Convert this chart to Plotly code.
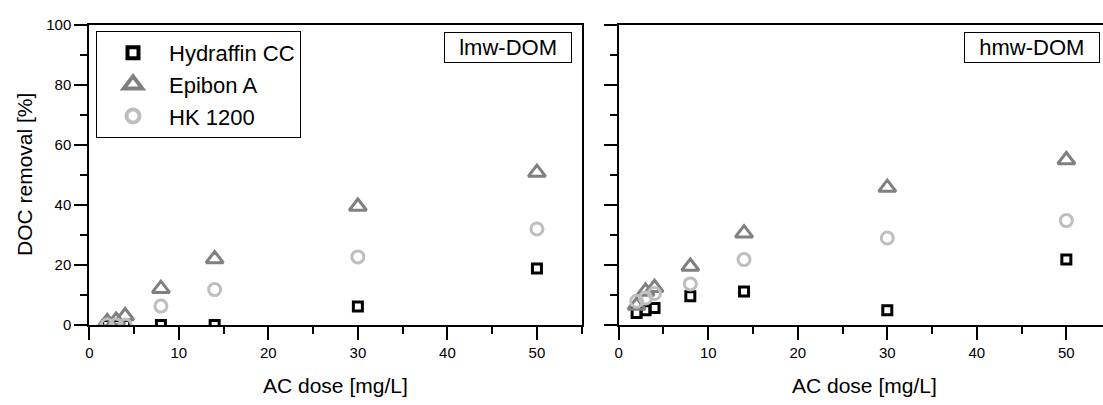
import plotly.graph_objects as go

dose = [2, 3, 4, 8, 14, 30, 50]

# lmw-DOM (left panel)
lmw_hydraffin = [0, 0, 0, 0, 0, 6.2, 18.8]
lmw_epibon = [1.0, 1.5, 3.0, 12.1, 22.0, 39.5, 50.8]
lmw_hk = [0, 0, 0, 6.3, 11.8, 22.7, 32.0]

# hmw-DOM (right panel)
hmw_hydraffin = [4.0, 4.9, 5.7, 9.6, 11.2, 4.9, 21.8]
hmw_epibon = [6.5, 11.2, 12.4, 19.5, 30.6, 45.8, 55.0]
hmw_hk = [7.9, 9.0, 10.5, 13.7, 21.8, 29.0, 34.8]

series_names = ["Hydraffin CC", "Epibon A", "HK 1200"]
panel_labels = ["lmw-DOM", "hmw-DOM"]
x_ticks = [0, 10, 20, 30, 40, 50]
y_ticks = [0, 20, 40, 60, 80, 100]

FONT = "Liberation Sans"
styles = [
    dict(symbol="square-open", size=9, color="#000000", width=3, lsize=11, lwidth=4),
    dict(symbol="triangle-up-open", size=15, color="#808080", width=3, lsize=16, lwidth=4),
    dict(symbol="circle-open", size=12, color="#BEBEBE", width=3, lsize=13, lwidth=4),
]

fig = go.Figure()
panels = [
    ("x", "y", [lmw_hydraffin, lmw_epibon, lmw_hk]),
    ("x2", "y2", [hmw_hydraffin, hmw_epibon, hmw_hk]),
]
for xa, ya, data in panels:
    for name, vals, st in zip(series_names, data, styles):
        fig.add_trace(go.Scatter(
            x=dose, y=vals, mode="markers", name=name, xaxis=xa, yaxis=ya,
            showlegend=False, cliponaxis=True, legendgroup=name,
            marker=dict(symbol=st["symbol"], size=st["size"], color=st["color"],
                        line=dict(color=st["color"], width=st["width"])),
        ))
# legend entries (bolder symbols, as in the original legend)
for name, st in zip(series_names, styles):
    fig.add_trace(go.Scatter(
        x=[None], y=[None], mode="markers", name=name, legendgroup=name, showlegend=True,
        marker=dict(symbol=st["symbol"], size=st["lsize"], color=st["color"],
                    line=dict(color=st["color"], width=st["lwidth"])),
    ))

W, H = 1103, 405
left_dom = [89.3 / W, 581.7 / W]
right_dom = [618.7 / W, 1.0]

axis_common = dict(
    showgrid=False, zeroline=False, showline=True, linecolor="black", linewidth=2,
    mirror=True, ticks="outside", tickcolor="black", tickwidth=2,
    tickfont=dict(family=FONT, size=15, color="black"), automargin=False,
)
xbase = dict(axis_common, tickvals=x_ticks, ticklen=13,
             minor=dict(dtick=5, tick0=0, ticklen=7, ticks="outside", tickcolor="black", tickwidth=2))
ybase = dict(axis_common, tickvals=y_ticks, ticklen=13, range=[0, 100],
             minor=dict(dtick=10, tick0=0, ticklen=7, ticks="outside", tickcolor="black", tickwidth=2))

overlay_x = dict(showgrid=False, zeroline=False, showline=False, ticks="inside", ticklen=4,
                 tickwidth=2, tickcolor="black", dtick=5, tick0=0, showticklabels=False, side="top")
overlay_y = dict(showgrid=False, zeroline=False, showline=False, ticks="inside", ticklen=4,
                 tickwidth=2, tickcolor="black", dtick=10, tick0=0, showticklabels=False, side="right")

fig.update_layout(
    width=W, height=H,
    margin=dict(l=0, r=0, t=24.5, b=79.5),
    plot_bgcolor="white", paper_bgcolor="white",
    font=dict(family=FONT, color="black"),
    xaxis=dict(xbase, domain=left_dom, range=[0, 55], anchor="y"),
    yaxis=dict(ybase, domain=[0, 1], anchor="x"),
    xaxis2=dict(xbase, domain=right_dom, range=[0, (W - 618.7) / 8.953], anchor="y2"),
    yaxis2=dict(ybase, domain=[0, 1], anchor="x2", showticklabels=False),
    xaxis3=dict(overlay_x, overlaying="x", matches="x", anchor="y"),
    yaxis3=dict(overlay_y, overlaying="y", matches="y", anchor="x"),
    xaxis4=dict(overlay_x, overlaying="x2", matches="x2", anchor="y2"),
    legend=dict(x=96 / W, y=0.98,
                xanchor="left", yanchor="top",
                bordercolor="black", borderwidth=1, bgcolor="white",
                font=dict(family=FONT, size=22, color="black"),
                itemwidth=62, tracegroupgap=0, itemsizing="trace"),
    showlegend=True,
)

# panel labels and x titles
label_x = [0.98, (1100 - 618.7) / (W - 618.7)]
for (xr, yr, txt), lx in zip([("x domain", "y domain", panel_labels[0]),
                              ("x2 domain", "y2 domain", panel_labels[1])], label_x):
    fig.add_annotation(xref=xr, yref=yr, x=lx, y=0.978, xanchor="right", yanchor="top",
                       text="&nbsp;&nbsp;" + txt + "&nbsp;&nbsp;", showarrow=False,
                       bordercolor="black", borderwidth=1, borderpad=2, bgcolor="white",
                       font=dict(family=FONT, size=22, color="black"))
fig.add_annotation(xref="x domain", yref="paper", x=0.5, y=-0.155, xanchor="center", yanchor="top",
                   text="AC dose [mg/L]", showarrow=False,
                   font=dict(family=FONT, size=21, color="black"))
fig.add_annotation(xref="paper", yref="paper", x=(618.7 + 492.4 / 2) / W, y=-0.155,
                   xanchor="center", yanchor="top",
                   text="AC dose [mg/L]", showarrow=False,
                   font=dict(family=FONT, size=21, color="black"))

fig.add_annotation(xref="paper", yref="paper", x=24 / W, y=0.5, xanchor="center", yanchor="middle",
                   text="DOC removal [%]", textangle=-90, showarrow=False,
                   font=dict(family=FONT, size=21, color="black"))

fig.write_html("out.html", config={"displayModeBar": False},
               post_script="document.body.style.margin='0';document.body.style.padding='0';")
